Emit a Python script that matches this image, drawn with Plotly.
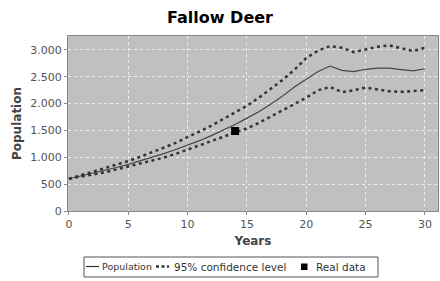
import plotly.graph_objects as go

years = list(range(0, 31))
population = [600, 650, 700, 755, 810, 870, 935, 1000, 1070, 1145, 1225, 1310, 1405, 1500,
              1610, 1730, 1850, 1990, 2140, 2310, 2460, 2600, 2700, 2620, 2595, 2640, 2660,
              2660, 2635, 2610, 2650]
upper_ci = [600, 665, 725, 790, 860, 930, 1010, 1090, 1180, 1270, 1370, 1480, 1590, 1710,
            1830, 1960, 2110, 2270, 2440, 2630, 2850, 2990, 3070, 3040, 2960, 3010, 3060,
            3085, 3030, 2980, 3040]
lower_ci = [600, 640, 680, 720, 775, 830, 880, 935, 995, 1065, 1145, 1215, 1295, 1380,
            1460, 1540, 1640, 1760, 1880, 2000, 2110, 2250, 2310, 2215, 2250, 2300, 2270,
            2230, 2220, 2240, 2250]
real_years = [14]
real_values = [1490]
legend_labels = ["Population", "95% confidence level", "Real data"]

W, H = 440, 281
L, R, T, B = 68, 2, 36, 70
PW, PH = W - L - R, H - T - B


def px(x):
    return (x - L) / PW


def py(y):
    return (H - B - y) / PH


DOT = "3px,3.5px"

fig = go.Figure()
fig.add_trace(go.Scatter(x=years, y=population, mode="lines", name=legend_labels[0],
                         line=dict(color="#444444", width=1.2)))
fig.add_trace(go.Scatter(x=years, y=upper_ci, mode="lines", name=legend_labels[1],
                         line=dict(color="#333333", width=2.5, dash=DOT)))
fig.add_trace(go.Scatter(x=years, y=lower_ci, mode="lines", name=legend_labels[1],
                         line=dict(color="#333333", width=2.5, dash=DOT)))
fig.add_trace(go.Scatter(x=real_years, y=real_values, mode="markers", name=legend_labels[2],
                         marker=dict(symbol="square", size=8, color="#000000")))

# legend box drawn as layout shapes + annotations
shapes = [
    dict(type="rect", xref="paper", yref="paper", x0=px(84), x1=px(378), y0=py(257), y1=py(277),
         line=dict(color="#555555", width=1), fillcolor="white", layer="above"),
    dict(type="line", xref="paper", yref="paper", x0=px(86), x1=px(99), y0=py(266.5), y1=py(266.5),
         line=dict(color="#333333", width=1.2)),
    dict(type="line", xref="paper", yref="paper", x0=px(156), x1=px(169), y0=py(266.5), y1=py(266.5),
         line=dict(color="#333333", width=2.5, dash="3px,2.5px")),
    dict(type="rect", xref="paper", yref="paper", x0=px(301), x1=px(307.5), y0=py(263.5), y1=py(270),
         line=dict(width=0), fillcolor="#000000"),
]
annotations = []
for lbl, xpos, fs in zip(legend_labels, [100, 172, 314], [9.5, 10.5, 10.5]):
    annotations.append(dict(text=lbl, xref="paper", yref="paper", x=px(xpos), y=py(266.5),
                            xanchor="left", yanchor="middle", showarrow=False,
                            font=dict(family="DejaVu Sans", size=fs, color="#333333")))

fig.update_layout(
    width=W, height=H,
    margin=dict(l=L, r=R, t=T, b=B, autoexpand=False),
    paper_bgcolor="white",
    plot_bgcolor="#c0c0c0",
    separators=",.",
    title=dict(text="<b>Fallow Deer</b>", x=0.5, xref="container", xanchor="center",
               y=1 - 17 / H, yref="container", yanchor="middle",
               font=dict(family="DejaVu Sans", size=16, color="#000000")),
    font=dict(family="DejaVu Sans", size=11, color="#555555"),
    showlegend=False,
    shapes=shapes,
    annotations=annotations,
)
fig.update_xaxes(
    range=[-0.08, 31.1], tickvals=[0, 5, 10, 15, 20, 25, 30],
    automargin=False,
    showgrid=True, gridcolor="#eeeeee", griddash="dot", gridwidth=1,
    zeroline=False, showline=True, linecolor="#888888", mirror=True,
    ticks="outside", ticklen=3, tickcolor="#888888",
    tickfont=dict(size=11, color="#555555"),
    title=dict(text="<b>Years</b>", font=dict(size=12, color="#444444"), standoff=6),
)
fig.update_yaxes(
    range=[0, 3260], tickvals=[0, 500, 1000, 1500, 2000, 2500, 3000],
    tickformat=",d", automargin=False,
    showgrid=True, gridcolor="#eeeeee", griddash="dot", gridwidth=1,
    zeroline=False, showline=True, linecolor="#888888", mirror=True,
    ticks="outside", ticklen=3, tickcolor="#888888",
    tickfont=dict(size=11, color="#555555"),
    title=dict(text="<b>Population</b>", font=dict(size=12, color="#444444"), standoff=6),
)

fig.write_html("out.html", config={"displayModeBar": False},
               post_script="document.body.style.margin='0';document.body.style.padding='0';")
